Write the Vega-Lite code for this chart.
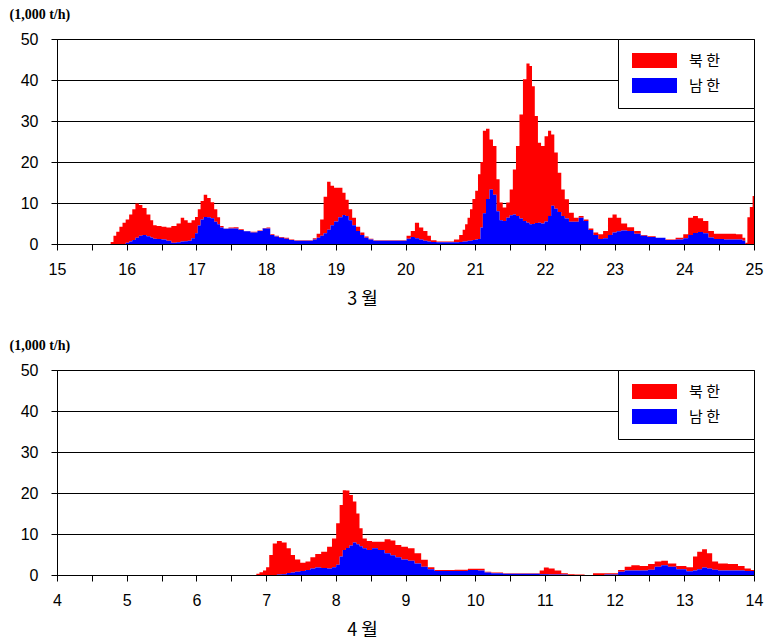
{
  "$schema": "https://vega.github.io/schema/vega-lite/v6.json",
  "padding": {"left": 8, "top": 6, "right": 5, "bottom": 5},
  "background": "white",
  "spacing": 28,
  "config": {
    "view": {"stroke": "black", "strokeWidth": 1},
    "axis": {
      "domainColor": "black", "gridColor": "black", "gridOpacity": 1, "tickColor": "black",
      "labelColor": "black", "labelFont": "Liberation Sans", "labelFontSize": 16,
      "titleColor": "black", "tickSize": 6
    },
    "legend": {
      "orient": "top-right", "offset": 0, "title": null,
      "symbolType": "M-1,-1H5V1H-1ZM13.4,0L13.4,0", "symbolSize": 225, "symbolStrokeWidth": 0,
      "labelFont": "Noto Sans CJK KR", "labelFontSize": 15, "labelColor": "black",
      "labelOffset": 42, "padding": 14, "rowPadding": 9,
      "strokeColor": "black", "fillColor": "white"
    }
  },
  "datasets": {
    "march": [
      {"t":15.00,"북한":0,"남한":0},{"t":15.75,"북한":0,"남한":0},{"t":15.79,"북한":0.5,"남한":0},
      {"t":15.83,"북한":2,"남한":0},{"t":15.87,"북한":3,"남한":0},{"t":15.92,"북한":4.2,"남한":0},
      {"t":15.96,"북한":5.2,"남한":0},{"t":16.01,"북한":5.7,"남한":0.3},{"t":16.06,"북한":6.6,"남한":0.6},
      {"t":16.10,"북한":7.5,"남한":1.0},{"t":16.15,"북한":8.4,"남한":1.5},{"t":16.20,"북한":7.5,"남한":2.0},
      {"t":16.25,"북한":6.6,"남한":2.2},{"t":16.32,"북한":5.3,"남한":1.9},{"t":16.36,"북한":4.2,"남한":1.6},
      {"t":16.40,"북한":3.3,"남한":1.3},{"t":16.46,"북한":3.2,"남한":1.2},{"t":16.54,"북한":3.1,"남한":1.1},
      {"t":16.60,"북한":3.2,"남한":0.8},{"t":16.68,"북한":4.1,"남한":0.3},{"t":16.75,"북한":4.6,"남한":0.4},
      {"t":16.80,"북한":5.8,"남한":0.6},{"t":16.85,"북한":5.1,"남한":0.7},{"t":16.90,"북한":4.4,"남한":0.8},
      {"t":16.96,"북한":4.4,"남한":1.4},{"t":17.00,"북한":4.0,"남한":2.6},{"t":17.04,"북한":4.0,"남한":4.5},
      {"t":17.08,"북한":4.5,"남한":6.0},{"t":17.13,"북한":5.4,"남한":6.6},{"t":17.18,"북한":4.7,"남한":6.5},
      {"t":17.23,"북한":3.9,"남한":6.3},{"t":17.28,"북한":3.1,"남한":5.4},{"t":17.32,"북한":1.7,"남한":4.8},
      {"t":17.36,"북한":0.4,"남한":4.0},{"t":17.42,"북한":0.1,"남한":3.7},{"t":17.50,"북한":0.2,"남한":3.8},
      {"t":17.57,"북한":0.3,"남한":3.8},{"t":17.64,"북한":0.2,"남한":3.4},{"t":17.72,"북한":0.1,"남한":3.1},
      {"t":17.83,"북한":0.2,"남한":2.8},{"t":17.92,"북한":0.1,"남한":3.2},{"t":17.98,"북한":0.1,"남한":3.8},
      {"t":18.03,"북한":0.2,"남한":3.8},{"t":18.09,"북한":0.2,"남한":2.2},{"t":18.15,"북한":0.2,"남한":1.8},
      {"t":18.22,"북한":0.2,"남한":1.5},{"t":18.30,"북한":0.2,"남한":1.3},{"t":18.36,"북한":0.1,"남한":1.0},
      {"t":18.45,"북한":0.1,"남한":0.8},{"t":18.55,"북한":0.1,"남한":0.8},{"t":18.64,"북한":0.1,"남한":0.8},
      {"t":18.70,"북한":0.3,"남한":1.1},{"t":18.75,"북한":1.0,"남한":1.5},{"t":18.80,"북한":4.0,"남한":2.0},
      {"t":18.85,"북한":8.9,"남한":2.6},{"t":18.90,"북한":11.7,"남한":3.5},{"t":18.95,"북한":9.6,"남한":4.6},
      {"t":19.00,"북한":8.2,"남한":5.5},{"t":19.07,"북한":7.2,"남한":6.5},{"t":19.12,"북한":5.4,"남한":7.1},
      {"t":19.16,"북한":4.0,"남한":6.8},{"t":19.21,"북한":2.7,"남한":5.8},{"t":19.26,"북한":1.8,"남한":4.6},
      {"t":19.32,"북한":1.0,"남한":3.2},{"t":19.38,"북한":0.6,"남한":2.2},{"t":19.44,"북한":0.3,"남한":1.5},
      {"t":19.50,"북한":0.2,"남한":1.1},{"t":19.58,"북한":0.1,"남한":0.8},{"t":19.75,"북한":0.1,"남한":0.8},
      {"t":19.90,"북한":0.1,"남한":0.8},{"t":19.98,"북한":0.1,"남한":0.8},{"t":20.05,"북한":0.7,"남한":1.3},
      {"t":20.10,"북한":1.5,"남한":1.7},{"t":20.17,"북한":3.8,"남한":1.4},{"t":20.22,"북한":2.9,"남한":1.1},
      {"t":20.29,"북한":2.4,"남한":0.8},{"t":20.34,"북한":1.4,"남한":0.6},{"t":20.39,"북한":0.4,"남한":0.5},
      {"t":20.50,"북한":0.2,"남한":0.4},{"t":20.65,"북한":0.2,"남한":0.4},{"t":20.74,"북한":0.7,"남한":0.4},
      {"t":20.80,"북한":1.7,"남한":0.5},{"t":20.84,"북한":2.9,"남한":0.6},{"t":20.87,"북한":4.2,"남한":0.6},
      {"t":20.91,"북한":5.6,"남한":0.8},{"t":20.94,"북한":7.7,"남한":0.8},{"t":20.98,"북한":10.0,"남한":1.0},
      {"t":21.02,"북한":11.9,"남한":1.1},{"t":21.06,"북한":15.8,"남한":1.2},{"t":21.09,"북한":16.0,"남한":4.0},
      {"t":21.13,"북한":20.1,"남한":7.5},{"t":21.18,"북한":17.1,"남한":11.0},{"t":21.23,"북한":12.2,"남한":13.3},
      {"t":21.28,"북한":11.9,"남한":12.0},{"t":21.33,"북한":7.8,"남한":8.0},{"t":21.37,"북한":4.3,"남한":5.8},
      {"t":21.42,"북한":3.3,"남한":5.6},{"t":21.47,"북한":3.7,"남한":6.4},{"t":21.52,"북한":6.3,"남한":7.0},
      {"t":21.56,"북한":11.0,"남한":7.2},{"t":21.61,"북한":17.1,"남한":6.8},{"t":21.66,"북한":25.4,"남한":6.2},
      {"t":21.71,"북한":34.6,"남한":5.6},{"t":21.76,"북한":38.8,"남한":5.2},{"t":21.80,"북한":38.6,"남한":4.8},
      {"t":21.83,"북한":33.6,"남한":4.9},{"t":21.88,"북한":26.1,"남한":5.1},{"t":21.92,"북한":19.5,"남한":5.2},
      {"t":21.97,"북한":18.9,"남한":5.0},{"t":22.02,"북한":20.8,"남한":5.5},{"t":22.07,"북한":20.8,"남한":6.8},
      {"t":22.11,"북한":17.4,"남한":9.3},{"t":22.16,"북한":13.7,"남한":8.6},{"t":22.21,"북한":9.6,"남한":7.8},
      {"t":22.26,"북한":6.5,"남한":6.8},{"t":22.31,"북한":4.7,"남한":6.2},{"t":22.38,"북한":2.2,"남한":5.4},
      {"t":22.45,"북한":1.0,"남한":5.4},{"t":22.52,"북한":0.4,"남한":6.4},{"t":22.59,"북한":0.4,"남한":5.6},
      {"t":22.66,"북한":0.4,"남한":3.4},{"t":22.73,"북한":0.6,"남한":2.2},{"t":22.80,"북한":1.2,"남한":1.2},
      {"t":22.87,"북한":1.8,"남한":1.4},{"t":22.94,"북한":4.2,"남한":2.2},{"t":23.00,"북한":4.4,"남한":2.8},
      {"t":23.06,"북한":3.3,"남한":3.1},{"t":23.13,"북한":1.7,"남한":3.3},{"t":23.23,"북한":0.9,"남한":3.2},
      {"t":23.33,"북한":0.7,"남한":2.5},{"t":23.42,"북한":0.2,"남한":2.0},{"t":23.52,"북한":0.2,"남한":1.7},
      {"t":23.66,"북한":0.0,"남한":1.5},{"t":23.80,"북한":0.1,"남한":1.0},{"t":23.95,"북한":0.4,"남한":1.1},
      {"t":24.02,"북한":1.0,"남한":1.4},{"t":24.09,"북한":4.2,"남한":2.2},{"t":24.16,"북한":4.1,"남한":2.7},
      {"t":24.23,"북한":3.4,"남한":2.9},{"t":24.31,"북한":3.0,"남한":2.6},{"t":24.38,"북한":1.6,"남한":1.6},
      {"t":24.47,"북한":1.3,"남한":1.2},{"t":24.67,"북한":1.4,"남한":1.1},{"t":24.81,"북한":1.3,"남한":1.1},
      {"t":24.86,"북한":0.7,"남한":0.8},{"t":24.89,"북한":0.3,"남한":0},{"t":24.92,"북한":6.5,"남한":0},
      {"t":24.96,"북한":9.0,"남한":0},{"t":25.00,"북한":11.7,"남한":0}
    ],
    "april": [
      {"t":4.00,"북한":0,"남한":0},{"t":6.84,"북한":0,"남한":0},{"t":6.88,"북한":0.3,"남한":0},
      {"t":6.93,"북한":0.7,"남한":0},{"t":6.98,"북한":1.1,"남한":0},{"t":7.02,"북한":1.9,"남한":0},
      {"t":7.07,"북한":4.9,"남한":0},{"t":7.12,"북한":7.7,"남한":0},{"t":7.19,"북한":8.2,"남한":0.1},
      {"t":7.26,"북한":7.7,"남한":0.2},{"t":7.33,"북한":6.0,"남한":0.5},{"t":7.38,"북한":4.3,"남한":0.6},
      {"t":7.45,"북한":3.0,"남한":0.8},{"t":7.53,"북한":2.0,"남한":1.0},{"t":7.60,"북한":2.1,"남한":1.2},
      {"t":7.67,"북한":2.7,"남한":1.6},{"t":7.74,"북한":3.3,"남한":1.8},{"t":7.84,"북한":4.0,"남한":1.7},
      {"t":7.91,"북한":5.3,"남한":1.6},{"t":7.98,"북한":7.0,"남한":1.9},{"t":8.03,"북한":10.1,"남한":2.5},
      {"t":8.08,"북한":12.6,"남한":4.5},{"t":8.12,"북한":14.6,"남한":6.1},{"t":8.17,"북한":14.0,"남한":6.6},
      {"t":8.22,"북한":12.3,"남한":7.2},{"t":8.27,"북한":10.0,"남한":7.9},{"t":8.32,"북한":7.5,"남한":7.5},
      {"t":8.36,"북한":4.4,"남한":7.0},{"t":8.41,"북한":2.4,"남한":6.5},{"t":8.48,"북한":2.2,"남한":6.1},
      {"t":8.56,"북한":1.6,"남한":6.5},{"t":8.65,"북한":2.0,"남한":6.1},{"t":8.75,"북한":3.4,"남한":5.3},
      {"t":8.82,"북한":3.6,"남한":4.8},{"t":8.89,"북한":3.0,"남한":4.3},{"t":8.99,"북한":3.1,"남한":3.8},
      {"t":9.08,"북한":3.0,"남한":3.5},{"t":9.18,"북한":2.5,"남한":2.8},{"t":9.27,"북한":1.7,"남한":2.0},
      {"t":9.37,"북한":0.5,"남한":1.4},{"t":9.46,"북한":0.2,"남한":1.0},{"t":9.61,"북한":0.2,"남한":1.0},
      {"t":9.80,"북한":0.3,"남한":1.0},{"t":9.99,"북한":0.3,"남한":1.2},{"t":10.09,"북한":0.4,"남한":1.1},
      {"t":10.18,"북한":0.2,"남한":0.6},{"t":10.28,"북한":0.2,"남한":0.4},{"t":10.52,"북한":0.1,"남한":0.3},
      {"t":10.90,"북한":0.1,"남한":0.3},{"t":10.95,"북한":0.9,"남한":0.2},{"t":11.02,"북한":1.6,"남한":0.2},
      {"t":11.09,"북한":1.5,"남한":0.1},{"t":11.19,"북한":1.0,"남한":0.1},{"t":11.28,"북한":0.3,"남한":0.1},
      {"t":11.38,"북한":0.2,"남한":0},{"t":11.47,"북한":0.1,"남한":0},{"t":11.67,"북한":0,"남한":0},
      {"t":11.71,"북한":0.4,"남한":0},{"t":12.00,"북한":0.3,"남한":0.1},{"t":12.10,"북한":0.4,"남한":0.8},
      {"t":12.19,"북한":0.9,"남한":1.1},{"t":12.29,"북한":1.3,"남한":1.1},{"t":12.43,"북한":1.1,"남한":1.1},
      {"t":12.53,"북한":1.4,"남한":1.3},{"t":12.62,"북한":1.3,"남한":2.0},{"t":12.72,"북한":1.1,"남한":2.4},
      {"t":12.81,"북한":0.8,"남한":2.0},{"t":12.96,"북한":0.8,"남한":1.4},{"t":13.10,"북한":1.0,"남한":0.9},
      {"t":13.15,"북한":3.4,"남한":1.1},{"t":13.22,"북한":4.3,"남한":1.4},{"t":13.29,"북한":4.5,"남한":1.8},
      {"t":13.36,"북한":3.7,"남한":1.6},{"t":13.44,"북한":2.0,"남한":1.3},{"t":13.53,"북한":1.7,"남한":1.1},
      {"t":13.72,"북한":1.6,"남한":1.1},{"t":13.82,"북한":1.1,"남한":1.1},{"t":13.91,"북한":0.6,"남한":1.0},
      {"t":14.00,"북한":0.2,"남한":1.0}
    ]
  },
  "resolve": {"legend": {"color": "independent"}, "scale": {"color": "independent", "x": "independent"}},
  "vconcat": [
    {
      "width": 697, "height": 205,
      "data": {"name": "march"},
      "transform": [{"fold": ["북한", "남한"], "as": ["series", "value"]}],
      "mark": {"type": "area", "interpolate": "step"},
      "encoding": {
        "x": {"field": "t", "type": "quantitative",
          "scale": {"domain": [15, 25], "nice": false, "zero": false},
          "axis": {"values": [15,15.5,16,16.5,17,17.5,18,18.5,19,19.5,20,20.5,21,21.5,22,22.5,23,23.5,24,24.5,25],
            "labelExpr": "datum.value % 1 == 0 ? '' + datum.value : ''", "labelFlush": false, "labelOverlap": false,
            "grid": false, "labelPadding": 11,
            "title": "3 월", "titleFont": "Noto Sans CJK KR", "titleFontSize": 18, "titleFontWeight": "normal",
            "titleX": 305, "titleY": 55, "titleBaseline": "middle", "titleAlign": "center"}},
        "y": {"field": "value", "type": "quantitative", "stack": "zero",
          "scale": {"domain": [0, 50], "nice": false},
          "axis": {"values": [0, 10, 20, 30, 40, 50], "grid": true, "labelPadding": 13,
            "title": "(1,000 t/h)", "titleFont": "Liberation Serif", "titleFontSize": 14, "titleFontWeight": "bold",
            "titleAngle": 0, "titleX": -48, "titleY": -25, "titleAlign": "left", "titleBaseline": "middle"}},
        "color": {"field": "series", "type": "nominal",
          "scale": {"domain": ["북한", "남한"], "range": ["#ff0000", "#0000ff"]},
          "legend": {"labelExpr": "datum.label == '북한' ? '북 한' : '남 한'"}},
        "order": {"field": "series", "sort": "ascending"}
      }
    },
    {
      "width": 697, "height": 205,
      "data": {"name": "april"},
      "transform": [{"fold": ["북한", "남한"], "as": ["series", "value"]}],
      "mark": {"type": "area", "interpolate": "step"},
      "encoding": {
        "x": {"field": "t", "type": "quantitative",
          "scale": {"domain": [4, 14], "nice": false, "zero": false},
          "axis": {"values": [4,4.5,5,5.5,6,6.5,7,7.5,8,8.5,9,9.5,10,10.5,11,11.5,12,12.5,13,13.5,14],
            "labelExpr": "datum.value % 1 == 0 ? '' + datum.value : ''", "labelFlush": false, "labelOverlap": false,
            "grid": false, "labelPadding": 11,
            "title": "4 월", "titleFont": "Noto Sans CJK KR", "titleFontSize": 18, "titleFontWeight": "normal",
            "titleX": 305, "titleY": 55, "titleBaseline": "middle", "titleAlign": "center"}},
        "y": {"field": "value", "type": "quantitative", "stack": "zero",
          "scale": {"domain": [0, 50], "nice": false},
          "axis": {"values": [0, 10, 20, 30, 40, 50], "grid": true, "labelPadding": 13,
            "title": "(1,000 t/h)", "titleFont": "Liberation Serif", "titleFontSize": 14, "titleFontWeight": "bold",
            "titleAngle": 0, "titleX": -48, "titleY": -25, "titleAlign": "left", "titleBaseline": "middle"}},
        "color": {"field": "series", "type": "nominal",
          "scale": {"domain": ["북한", "남한"], "range": ["#ff0000", "#0000ff"]},
          "legend": {"labelExpr": "datum.label == '북한' ? '북 한' : '남 한'"}},
        "order": {"field": "series", "sort": "ascending"}
      }
    }
  ]
}
